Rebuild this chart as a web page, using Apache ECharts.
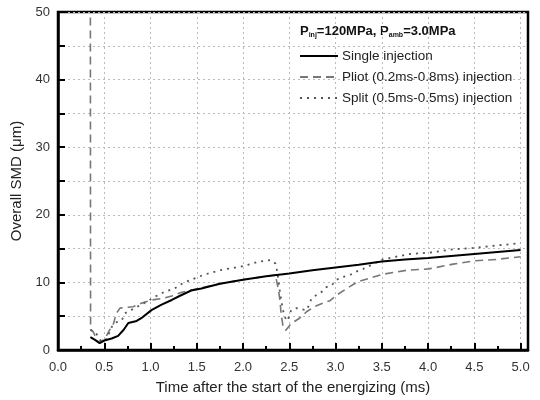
<!DOCTYPE html>
<html>
<head>
<meta charset="utf-8">
<script src="https://cdn.jsdelivr.net/npm/echarts@6/dist/echarts.min.js"></script>
<style>html,body{margin:0;padding:0;background:#fff}#c{width:540px;height:400px}</style>
</head>
<body>
<div id="c"></div>
<script>
const xTicks = [0, 0.5, 1, 1.5, 2, 2.5, 3, 3.5, 4, 4.5, 5];
const yTicks = [0, 10, 20, 30, 40, 50];

const singleX = [0.35,0.40,0.45,0.50,0.58,0.65,0.71,0.76,0.85,0.90,1.01,1.12,1.23,1.33,1.44,1.55,1.75,2.0,2.25,2.5,2.75,3.0,3.25,3.5,3.75,4.0,4.25,4.5,4.75,5.0];
const singleY = [1.9,1.5,1.0,1.4,1.7,2.1,3.0,4.0,4.3,4.7,5.9,6.7,7.4,8.1,8.8,9.1,9.8,10.4,10.9,11.3,11.8,12.2,12.6,13.1,13.4,13.6,13.9,14.2,14.5,14.8];

const pilotX = [0.35,0.352,0.38,0.43,0.50,0.56,0.60,0.63,0.67,0.74,0.81,0.90,1.01,1.12,1.23,1.33,1.48,1.75,2.0,2.2,2.35,2.38,2.40,2.41,2.43,2.46,2.52,2.61,2.69,2.77,2.86,2.94,3.01,3.12,3.24,3.51,3.77,4.01,4.27,4.5,4.74,5.0];
const pilotY = [49.2,3.0,2.7,1.2,1.5,3.0,3.9,5.4,6.2,6.3,6.4,6.9,7.4,7.6,8.0,8.5,9.0,9.8,10.4,10.8,11.1,9.1,7.3,5.5,3.7,2.9,3.9,4.7,5.7,6.4,6.9,7.3,8.1,9.1,10.1,11.2,11.8,12.0,12.7,13.2,13.4,13.8];

const splitX = [0.35,0.41,0.47,0.53,0.58,0.63,0.69,0.72,0.83,0.94,1.05,1.15,1.26,1.35,1.44,1.57,1.75,2.0,2.18,2.3,2.35,2.37,2.40,2.43,2.45,2.48,2.52,2.58,2.64,2.69,2.74,2.79,2.85,2.90,2.96,3.01,3.08,3.17,3.24,3.30,3.51,3.8,4.01,4.27,4.5,4.77,5.0];
const splitY = [3.0,2.5,1.2,1.7,3.4,4.1,4.4,5.4,6.2,7.0,7.9,8.6,9.1,9.9,10.4,11.1,11.8,12.4,13.1,13.3,12.8,11.6,8.5,6.0,4.9,4.3,5.9,6.2,6.0,5.9,7.6,8.1,8.6,9.3,9.6,10.4,10.8,11.2,11.7,12.0,13.4,14.2,14.4,14.9,15.1,15.5,15.8];

const seriesNames = ['Single injection', 'Pliot (0.2ms-0.8ms) injection', 'Split (0.5ms-0.5ms) injection'];

function zip(xs, ys) { return xs.map((x, i) => [x, ys[i]]); }

const font = 'Liberation Sans, Arial, sans-serif';
const chart = echarts.init(document.getElementById('c'), null, {renderer: 'canvas'});
chart.setOption({
  animation: false,
  backgroundColor: '#fff',
  grid: {left: 58, right: 12, top: 12, bottom: 50, show: true, borderColor: '#000', borderWidth: 2.5, backgroundColor: 'transparent'},
  xAxis: {
    type: 'value', min: 0, max: 5.08, interval: 0.5,
    name: 'Time after the start of the energizing (ms)', nameLocation: 'middle', nameGap: 30,
    nameTextStyle: {fontFamily: font, fontSize: 15, color: '#222'},
    axisLine: {show: true, lineStyle: {color: '#000', width: 2.5}},
    axisTick: {show: true, inside: true, length: 7, lineStyle: {color: '#000', width: 2},
      customValues: xTicks},
    minorTick: {show: true, splitNumber: 2, length: 4, lineStyle: {color: '#000', width: 2}},
    axisLabel: {fontFamily: font, fontSize: 13, color: '#333', margin: 11,
      customValues: xTicks,
      formatter: v => v.toFixed(1)},
    splitLine: {show: true, lineStyle: {color: '#bbb', type: [2, 3], width: 1}}
  },
  yAxis: {
    type: 'value', min: 0, max: 50, interval: 5,
    name: 'Overall SMD (\u03bcm)', nameLocation: 'middle', nameGap: 33,
    nameTextStyle: {fontFamily: font, fontSize: 15, color: '#222'},
    axisLine: {show: true, lineStyle: {color: '#000', width: 2.5}},
    axisTick: {show: true, inside: true, length: 7, lineStyle: {color: '#000', width: 2}},
    axisLabel: {fontFamily: font, fontSize: 13, color: '#333', margin: 8,
      formatter: v => (v % 10 === 0 ? String(v) : '')},
    splitLine: {show: true, lineStyle: {color: '#bbb', type: [2, 3], width: 1}}
  },
  legend: {
    orient: 'vertical', left: 294, top: 44, itemWidth: 38, itemHeight: 12, itemGap: 7,
    itemStyle: {opacity: 0},
    textStyle: {fontFamily: font, fontSize: 13.5, color: '#222', padding: [0, 0, 0, -1]},
    data: seriesNames
  },
  graphic: [{
    type: 'text', left: 300, top: 25,
    style: {
      text: '{b|P}{s|inj}{b|=120MPa, P}{s|amb}{b|=3.0MPa}',
      rich: {
        b: {fontFamily: font, fontSize: 13, fontWeight: 'bold', fill: '#111'},
        s: {fontFamily: font, fontSize: 7, fontWeight: 'bold', fill: '#111', padding: [8, 0, 0, 0]}
      }
    }
  }],
  series: [
    {name: seriesNames[0], type: 'line', data: zip(singleX, singleY), symbol: 'none',
      lineStyle: {color: '#000', width: 2}, itemStyle: {color: '#000'}, z: 3},
    {name: seriesNames[1], type: 'line', data: zip(pilotX, pilotY), symbol: 'none',
      lineStyle: {color: '#777', width: 1.6, type: [8, 5]}, itemStyle: {color: '#777'}, z: 2},
    {name: seriesNames[2], type: 'line', data: zip(splitX, splitY), symbol: 'none',
      lineStyle: {color: '#555', width: 1.8, type: [2, 5]}, itemStyle: {color: '#555'}, z: 2}
  ]
});
</script>
</body>
</html>
